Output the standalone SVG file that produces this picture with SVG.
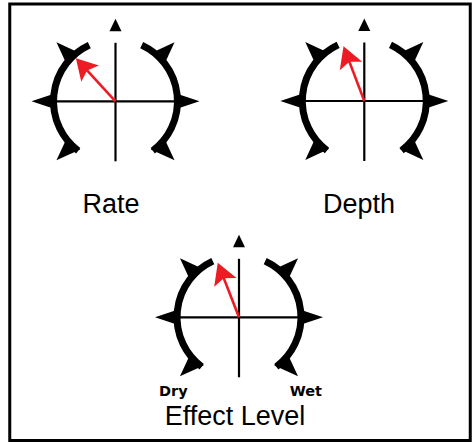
<svg xmlns="http://www.w3.org/2000/svg" xmlns:xlink="http://www.w3.org/1999/xlink" width="475" height="442" viewBox="0 0 475 442">
  <style>
    .frame { fill: none; stroke: #000; stroke-width: 3; }
    .arc { fill: none; stroke: #000; stroke-width: 7; }
    .cross { stroke: #000; stroke-width: 2.2; }
    .spike { fill: #000; }
    .needle { stroke: #ed1c24; stroke-width: 2.6; fill: none; }
    .head { fill: #ed1c24; }
    .label { font-family: "Liberation Sans", Arial, sans-serif; font-size: 27px; fill: #000; text-anchor: middle; }
    .small { font-family: "DejaVu Sans", sans-serif; font-weight: bold; font-size: 14.5px; fill: #000; }
  </style>
  <defs>
    <polygon id="spike" class="spike" points="60,-8 84,0 60,8"/>
    <polygon id="barb" class="spike" points="59,-9 83.5,0 59,9"/>
    <g id="dial">
      <path class="arc" d="M -26.2 -56.2 A 62 62 0 0 0 -37.3 49.5"/>
      <path class="arc" d="M 26.2 -56.2 A 62 62 0 0 1 37.3 49.5"/>
      <use xlink:href="#spike" transform="rotate(0)"/>
      <use xlink:href="#spike" transform="rotate(180)"/>
      <use xlink:href="#barb" transform="rotate(-45)"/>
      <use xlink:href="#barb" transform="rotate(45)"/>
      <use xlink:href="#barb" transform="rotate(135)"/>
      <use xlink:href="#barb" transform="rotate(-135)"/>
      <line class="cross" x1="0" y1="-58.5" x2="0" y2="60"/>
      <line class="cross" x1="-60" y1="0" x2="60" y2="0"/>
      <polygon class="spike" points="-6,-70 6,-70 0,-82.5"/>
    </g>
    <g id="pointer">
      <line class="needle" x1="0" y1="0" x2="44" y2="0"/>
      <polygon class="head" points="58.5,0 37.5,-12 42,0 37.5,12"/>
    </g>
  </defs>

  <rect class="frame" x="9.75" y="4" width="460.5" height="436.5"/>

  <g id="rate-knob" transform="translate(115.5,101.3)">
    <use xlink:href="#dial"/>
    <use xlink:href="#pointer" transform="rotate(-132.6)"/>
  </g>
  <text id="rate-label" class="label" x="111" y="213">Rate</text>

  <g id="depth-knob" transform="translate(364.3,101)">
    <use xlink:href="#dial"/>
    <use xlink:href="#pointer" transform="rotate(-110.8)"/>
  </g>
  <text id="depth-label" class="label" x="359" y="213">Depth</text>

  <g id="effect-knob" transform="translate(239,317.3)">
    <use xlink:href="#dial"/>
    <use xlink:href="#pointer" transform="rotate(-111.3)"/>
  </g>
  <text id="effect-label" class="label" x="235" y="425">Effect Level</text>
  <text id="dry-label" class="small" x="159" y="395.7">Dry</text>
  <text id="wet-label" class="small" x="322" y="395.7" text-anchor="end">Wet</text>

  <g id="connectors"></g>
</svg>
